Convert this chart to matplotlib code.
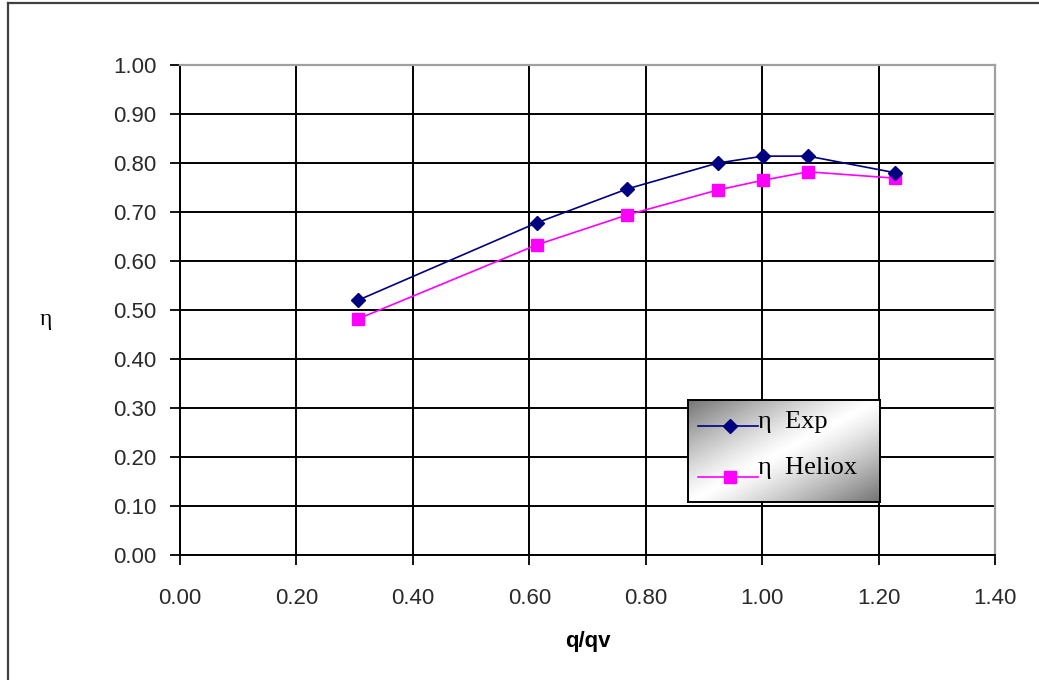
import numpy as np
import matplotlib.pyplot as plt
from matplotlib.lines import Line2D

# valores
q_qv = [0.306, 0.613, 0.768, 0.924, 1.002, 1.079, 1.229]
eta_exp = [0.520, 0.678, 0.747, 0.800, 0.814, 0.814, 0.780]
eta_heliox = [0.482, 0.633, 0.694, 0.745, 0.765, 0.782, 0.769]

x_ticks = [0.0, 0.2, 0.4, 0.6, 0.8, 1.0, 1.2, 1.4]
y_ticks = [0.0, 0.1, 0.2, 0.3, 0.4, 0.5, 0.6, 0.7, 0.8, 0.9, 1.0]

W, H = 1039, 680
fig = plt.figure(figsize=(W / 100, H / 100), dpi=100)

# moldura externa (so esquerda e topo aparecem)
fig.add_artist(Line2D([8 / W, 8 / W], [0, 1 - 3 / H], color="#404040", lw=1.6,
                      transform=fig.transFigure))
fig.add_artist(Line2D([8 / W, 1], [1 - 3 / H, 1 - 3 / H], color="#404040", lw=1.6,
                      transform=fig.transFigure))

ax = fig.add_axes([180 / W, 125 / H, 815 / W, 490 / H])

ax.plot(q_qv, eta_exp, color="#000080", lw=1.2, marker="D", ms=7.5,
        markerfacecolor="#000080", markeredgecolor="#000080", zorder=4)
ax.plot(q_qv, eta_heliox, color="#FF00FF", lw=1.2, marker="s", ms=8.5,
        markerfacecolor="#FF00FF", markeredgecolor="#FF00FF", zorder=3)

ax.set_xlim(0, 1.4)
ax.set_ylim(0, 1.0)
ax.set_xticks(x_ticks)
ax.set_yticks(y_ticks)
ax.set_xticklabels([f"{v:.2f}" for v in x_ticks], fontsize=16,
                   family="Liberation Sans", color="#2a2a2a")
ax.set_yticklabels([f"{v:.2f}" for v in y_ticks], fontsize=16,
                   family="Liberation Sans", color="#2a2a2a")
ax.tick_params(direction="out", length=7, width=1.3, color="black")
ax.tick_params(axis="x", pad=17)
ax.tick_params(axis="y", pad=10)

ax.grid(True, color="black", lw=1.4)
ax.set_axisbelow(True)
for lado in ["left", "bottom"]:
    ax.spines[lado].set_color("black")
    ax.spines[lado].set_linewidth(1.4)
for lado in ["top", "right"]:
    ax.spines[lado].set_color("#a0a0a0")
    ax.spines[lado].set_linewidth(1.6)

fig.text(588 / W, 1 - 642 / H, "q/qv", fontsize=16, fontweight="bold",
         family="Liberation Sans", ha="center", va="center")
fig.text(46 / W, 1 - 320 / H, "η", fontsize=17, family="Liberation Serif",
         ha="center", va="center")

# legenda com fundo em degrade
lx0, lx1, ly0, ly1 = 688, 880, 400, 502
lax = fig.add_axes([lx0 / W, 1 - ly1 / H, (lx1 - lx0) / W, (ly1 - ly0) / H])
gx, gy = np.meshgrid(np.linspace(0, 1, 200), np.linspace(0, 1, 120))
d = np.abs((gx + gy) - 1.0)
grad = 1 - 0.55 * d ** 1.2
lax.imshow(grad, cmap="gray", vmin=0, vmax=1, extent=[0, 1, 0, 1],
           aspect="auto", origin="upper")
lax.set_xlim(0, 1)
lax.set_ylim(0, 1)
lax.set_xticks([])
lax.set_yticks([])
for s in lax.spines.values():
    s.set_color("black")
    s.set_linewidth(1.4)

lax.plot([0.05, 0.365], [0.745, 0.745], color="#000080", lw=1.2)
lax.plot([0.22], [0.745], marker="D", ms=7.5, color="#000080")
lax.plot([0.05, 0.365], [0.245, 0.245], color="#FF00FF", lw=1.2)
lax.plot([0.22], [0.245], marker="s", ms=8.5, color="#FF00FF")
lax.text(0.365, 0.78, "η  Exp", fontsize=19, family="Liberation Serif",
         va="center", ha="left")
lax.text(0.365, 0.33, "η  Heliox", fontsize=19, family="Liberation Serif",
         va="center", ha="left")

plt.savefig("out.png", dpi=100)
